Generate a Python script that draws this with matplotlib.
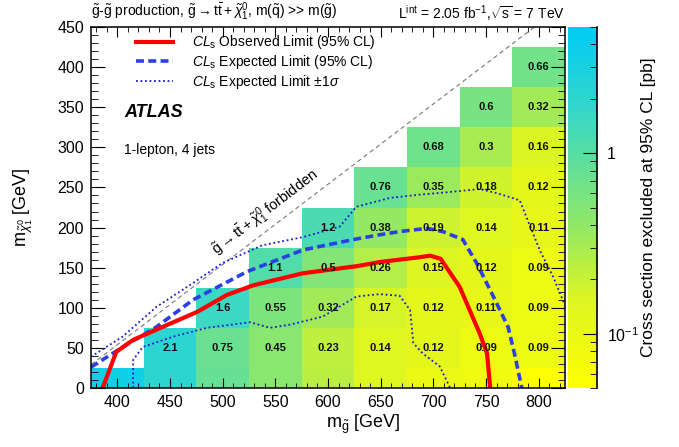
import numpy as np
import matplotlib
matplotlib.use('Agg')
import matplotlib.pyplot as plt
from matplotlib.colors import LinearSegmentedColormap, LogNorm
from matplotlib.ticker import MultipleLocator, FixedLocator, NullFormatter

plt.rcParams['font.family'] = ['Liberation Sans', 'DejaVu Sans']
plt.rcParams['mathtext.fontset'] = 'custom'
plt.rcParams['mathtext.rm'] = 'Liberation Sans'
plt.rcParams['mathtext.it'] = 'Liberation Sans:italic'
plt.rcParams['mathtext.bf'] = 'Liberation Sans:bold'

nan = np.nan

# bin centres of the grid (GeV)
m_gluino = [400, 450, 500, 550, 600, 650, 700, 750, 800]
m_chi = [0, 50, 100, 150, 200, 250, 300, 350, 400]

# excluded cross section [pb], one list per neutralino mass row, bottom to top
xsec_0 = [3.5, 2.0, 0.8, 0.45, 0.24, 0.14, 0.095, 0.085, 0.05]
xsec_50 = [nan, 2.1, 0.75, 0.45, 0.23, 0.14, 0.12, 0.09, 0.09]
xsec_100 = [nan, nan, 1.6, 0.55, 0.32, 0.17, 0.12, 0.11, 0.09]
xsec_150 = [nan, nan, nan, 1.1, 0.5, 0.26, 0.15, 0.12, 0.09]
xsec_200 = [nan, nan, nan, nan, 1.2, 0.38, 0.19, 0.14, 0.11]
xsec_250 = [nan, nan, nan, nan, nan, 0.76, 0.35, 0.18, 0.12]
xsec_300 = [nan, nan, nan, nan, nan, nan, 0.68, 0.3, 0.16]
xsec_350 = [nan, nan, nan, nan, nan, nan, nan, 0.6, 0.32]
xsec_400 = [nan, nan, nan, nan, nan, nan, nan, nan, 0.66]

# limit contours
obs_x = [386, 399, 415, 441, 476, 504, 529, 576, 628, 649, 687, 697, 707, 725, 744, 751, 754]
obs_y = [0, 45, 60, 75, 95, 116, 128, 143, 152, 157, 163, 165, 161, 126, 68, 43, 0]

exp_x = [375, 405, 437, 472, 523, 576, 624, 649, 668, 694, 709, 728, 741, 757, 771, 777, 784]
exp_y = [26, 51, 76, 110, 145, 172, 185, 191, 195, 199, 195, 185, 156, 114, 76, 43, 0]

sig_lo_x = [415, 415, 424, 453, 485, 526, 545, 564, 595, 627, 649, 668, 678, 681, 690, 706, 716]
sig_lo_y = [0, 35, 51, 64, 75, 82, 75, 79, 89, 114, 117, 115, 97, 56, 43, 27, 0]

sig_hi_x = [375, 405, 437, 472, 500, 538, 576, 611, 627, 659, 687, 713, 744, 760, 782, 789, 801, 814, 825]
sig_hi_y = [39, 64, 101, 131, 156, 178, 188, 201, 226, 237, 241, 244, 248, 243, 234, 211, 172, 138, 103]

# kinematic boundary m(chi) = m(gluino) - 2 m(top)
m_top = 173
diag_x = [2 * m_top, 796]

grid = np.array([xsec_0, xsec_50, xsec_100, xsec_150, xsec_200,
                 xsec_250, xsec_300, xsec_350, xsec_400])
x_edges = np.append(np.array(m_gluino) - 25, m_gluino[-1] + 25)
y_edges = np.append(np.array(m_chi) - 25, m_chi[-1] + 25)

cmap = LinearSegmentedColormap.from_list('atlas', [
    (0.0, (1.0, 1.0, 0.0)),
    (0.25, (0.86, 0.96, 0.14)),
    (0.45, (0.57, 0.91, 0.40)),
    (0.6, (0.40, 0.88, 0.58)),
    (0.78, (0.20, 0.84, 0.80)),
    (1.0, (0.0, 0.80, 0.96)),
])
norm = LogNorm(vmin=0.05, vmax=5)

fig = plt.figure(figsize=(6.79, 4.47), dpi=100)
ax = fig.add_axes([91 / 679, 1 - 388 / 447, 474 / 679, 361 / 447])

mesh = ax.pcolormesh(x_edges, y_edges, np.ma.masked_invalid(grid), cmap=cmap, norm=norm)

# numbers in the cells (the bottom half-row carries none)
for j, mc in enumerate(m_chi):
    if mc == 0:
        continue
    for i, mg in enumerate(m_gluino):
        v = grid[j, i]
        if not np.isnan(v):
            ax.text(mg, mc, f'{v:g}', ha='center', va='center',
                    fontsize=8, fontweight='bold', color='#111111')

dx = np.array(diag_x)
ax.plot(dx, dx - 2 * m_top, color='#777777', lw=0.8, ls=(0, (4, 3)))
ax.text(541, 219, r'$\tilde{\mathrm{g}}\rightarrow\mathrm{t}\bar{\mathrm{t}}+\tilde{\chi}^{0}_{1}$ forbidden',
        rotation=37.5, ha='center', va='center', fontsize=10.5, rotation_mode='anchor')

ax.plot(sig_hi_x, sig_hi_y, color='#1a1acc', lw=1.3, ls=(0, (1, 1.5)),
        label=r'$CL_{\mathrm{s}}$ Expected Limit $\pm1\sigma$')
ax.plot(sig_lo_x, sig_lo_y, color='#1a1acc', lw=1.3, ls=(0, (1, 1.5)))
ax.plot(exp_x, exp_y, color='#2b3fe3', lw=2.6, ls=(0, (2.2, 1.2)),
        label=r'$CL_{\mathrm{s}}$ Expected Limit (95% CL)')
ax.plot(obs_x, obs_y, color='#ff0000', lw=3,
        label=r'$CL_{\mathrm{s}}$ Observed Limit (95% CL)')

h, l = ax.get_legend_handles_labels()
ax.legend(h[::-1], l[::-1], loc='upper left', bbox_to_anchor=(0.095, 0.982),
          frameon=False, fontsize=10, handlelength=2.65, handletextpad=1.4,
          labelspacing=0.12, borderpad=0, borderaxespad=0)

ax.text(0.07, 0.75, 'ATLAS', transform=ax.transAxes, fontsize=13,
        fontweight='bold', fontstyle='italic')
ax.text(0.07, 0.647, '1-lepton, 4 jets', transform=ax.transAxes, fontsize=10)

ax.set_xlim(375, 825)
ax.set_ylim(0, 450)
ax.xaxis.set_major_locator(MultipleLocator(50))
ax.xaxis.set_minor_locator(MultipleLocator(10))
ax.yaxis.set_major_locator(MultipleLocator(50))
ax.yaxis.set_minor_locator(MultipleLocator(10))
ax.set_xticks([400, 450, 500, 550, 600, 650, 700, 750, 800])
ax.tick_params(which='both', direction='in', top=True, right=True, labelsize=11.5, pad=5)
ax.tick_params(axis='x', which='major', length=7)
ax.tick_params(axis='x', which='minor', length=3.5)
ax.tick_params(axis='y', which='major', length=10)
ax.tick_params(axis='y', which='minor', length=5)
for s in ax.spines.values():
    s.set_linewidth(1.1)

ax.text(0.574, -0.102, r'm$_{\tilde{\mathrm{g}}}$ [GeV]', transform=ax.transAxes,
        ha='center', va='center', fontsize=13)
ax.text(-0.143, 0.5, r'm$_{\tilde{\chi}^{0}_{1}}$ [GeV]', transform=ax.transAxes,
        ha='center', va='center', rotation=90, fontsize=13)

ax.text(0.0, 1.012, r'$\tilde{\mathrm{g}}$-$\tilde{\mathrm{g}}$ production, '
        r'$\tilde{\mathrm{g}}\rightarrow\mathrm{t}\bar{\mathrm{t}}+\tilde{\chi}^{0}_{1}$, '
        r'm($\tilde{\mathrm{q}}$) >> m($\tilde{\mathrm{g}}$)',
        transform=ax.transAxes, ha='left', va='bottom', fontsize=10)
ax.text(1.0, 1.012, r'L$^{\mathrm{int}}$ = 2.05 fb$^{-1}$,$\sqrt{\mathrm{s}}$ = 7 TeV',
        transform=ax.transAxes, ha='right', va='bottom', fontsize=10)

# colour bar
cax = fig.add_axes([568 / 679, 1 - 388 / 447, 29 / 679, 361 / 447])
cb = fig.colorbar(mesh, cax=cax)
cb.outline.set_visible(False)
cax.plot([1, 1], [0, 1], color='black', lw=1.2, transform=cax.transAxes, clip_on=False)
cax.yaxis.set_ticks_position('right')
cax.yaxis.set_major_locator(FixedLocator([0.1, 1]))
cax.set_yticklabels([r'$10^{-1}$', '1'])
cax.yaxis.set_minor_locator(FixedLocator([0.05, 0.06, 0.07, 0.08, 0.09,
                                          0.2, 0.3, 0.4, 0.5, 0.6, 0.7, 0.8, 0.9,
                                          2, 3, 4, 5]))
cax.yaxis.set_minor_formatter(NullFormatter())
cax.tick_params(which='both', direction='in', labelsize=11.5, pad=7)
cax.tick_params(which='major', length=10)
cax.tick_params(which='minor', length=5)
fig.text(648 / 679, 1 - 207 / 447, 'Cross section excluded at 95% CL [pb]',
         rotation=90, ha='center', va='center', fontsize=12.5)

fig.savefig('out.png', dpi=100)
